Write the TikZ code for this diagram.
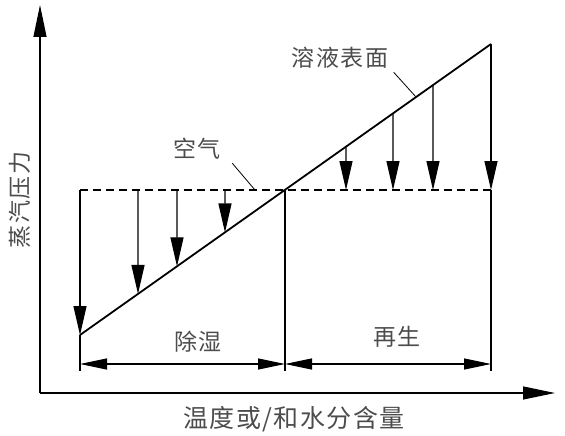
\documentclass[tikz,border=0pt]{standalone}
\usepackage{fontspec}
\setmainfont[LetterSpace=6]{Noto Sans CJK SC}
\usetikzlibrary{arrows.meta,calc}

\begin{document}
\begin{tikzpicture}[x=1pt, y=-1pt, line width=1.2pt,
    every node/.style={font=\fontsize{23}{23}\selectfont, text=black!70, inner sep=0pt},
    axis/.style={-{Triangle[length=32pt,width=13pt]}},
    drop/.style={-{Triangle[length=29pt,width=13pt]}},
    span/.style={{Triangle[length=27pt,width=11pt]}-{Triangle[length=27pt,width=11pt]}},
    leader/.style={line width=0.8pt}]
  \useasboundingbox (0,0) rectangle (565,436);
  % axes
  \coordinate (O) at (40,393);
  \coordinate (ytip) at (40,5);
  \coordinate (xtip) at (555,393);
  \draw[axis] (O) -- (ytip);
  \draw[axis] (O) -- (xtip);
  % solution surface and air
  \coordinate (A) at (80,335);
  \coordinate (B) at (285,190);
  \coordinate (C) at (491,44);
  \coordinate (D) at (80,190);
  \coordinate (E) at (491,190);
  \draw[line width=1.8pt] (A) -- (C);
  \draw[line width=2pt, dash pattern=on 8pt off 5pt] (D) -- (E);
  % verticals
  \coordinate (Lb) at (80,371);
  \coordinate (Mb) at (285,371);
  \coordinate (Rb) at (491,371);
  \draw[drop] (D) -- (A);
  \draw (A) -- (Lb);
  \draw (B) -- (Mb);
  \draw[drop] (C) -- (E);
  \draw (E) -- (Rb);
  \foreach \x in {138,177,225}
    \draw[drop] ($(D)!{(\x-80)/411}!(E)$) -- ($(A)!{(\x-80)/205}!(B)$);
  \foreach \x in {346,393,433}
    \draw[drop] ($(B)!{(\x-285)/206}!(C)$) -- ($(D)!{(\x-80)/411}!(E)$);
  % spans
  \coordinate (L) at (80,364);
  \coordinate (M) at (285,364);
  \coordinate (R) at (491,364);
  \draw[span] (L) -- (M);
  \draw[span] (M) -- (R);
  % labels
  \node (air) at (197,149) {空气};
  \coordinate (airpt) at (255,190);
  \draw[leader] ([shift={(11,3)}]air.south east) -- (airpt);
  \node (surf) at (340,58) {溶液表面};
  \coordinate (surfpt) at (416,97);
  \draw[leader] ([shift={(5,3)}]surf.south east) -- (surfpt);
  \node (dehum) at (198,342) {除湿};
  \node (regen) at (397,337) {再生};
  \node[rotate=90] (ylab) at (20,200) {蒸汽压力};
  \node[font=\fontsize{25}{25}\selectfont] (xlab) at (294,419) {温度或/和水分含量};
\end{tikzpicture}
\end{document}
